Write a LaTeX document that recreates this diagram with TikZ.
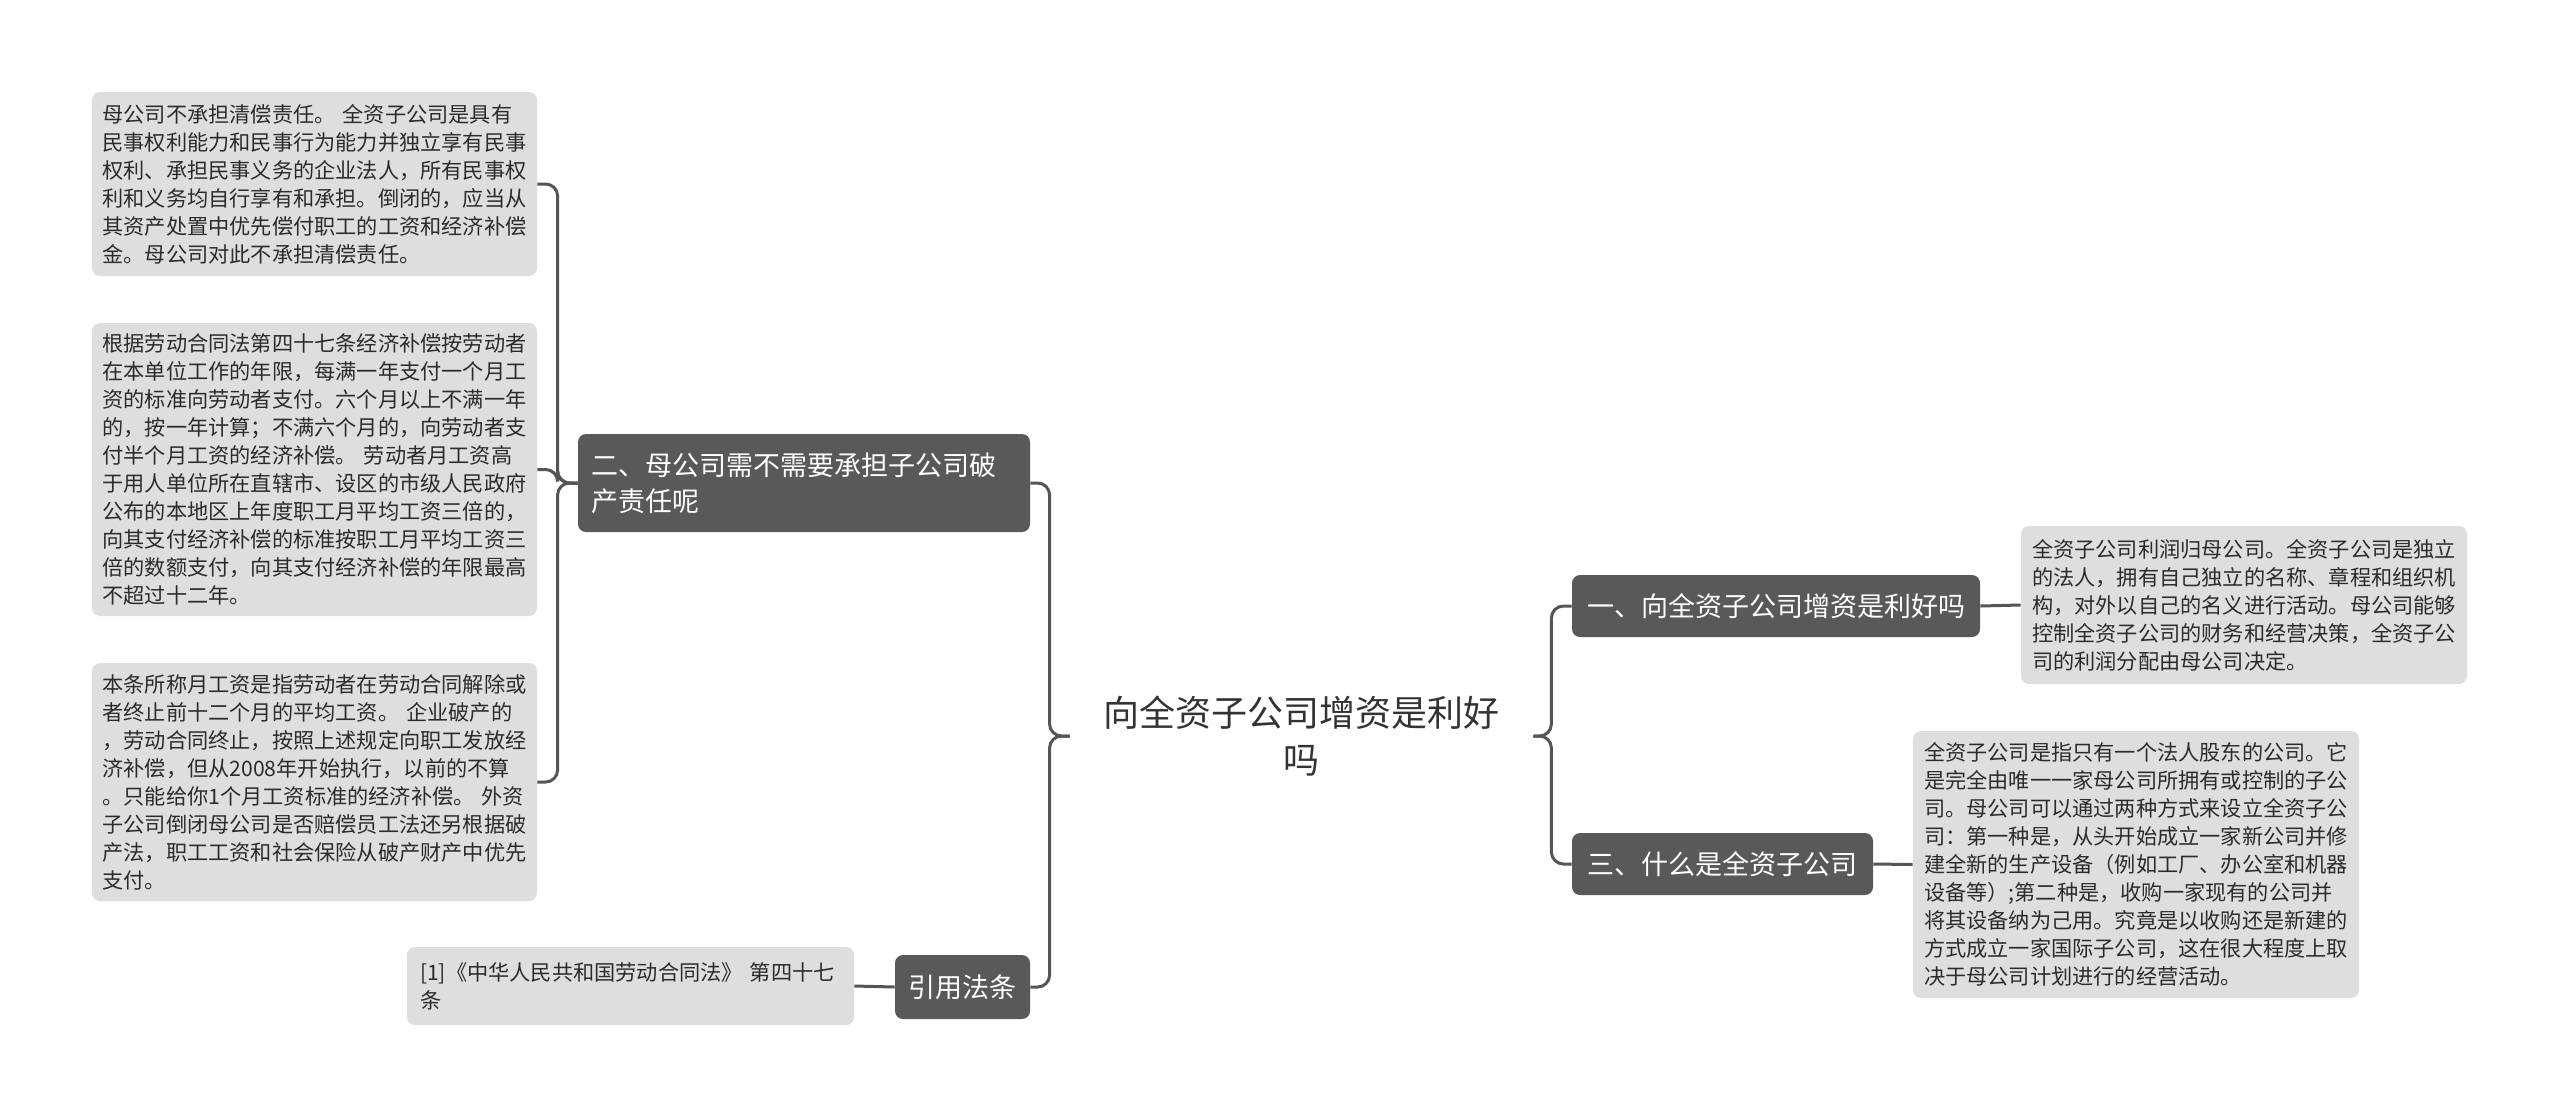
\documentclass[tikz,border=0pt]{standalone}
\usepackage{fontspec}
\setmainfont{Noto Sans CJK SC}
\definecolor{leafgray}{HTML}{DEDEDE}
\definecolor{leaftext}{HTML}{2B2B2B}
\definecolor{topicgray}{HTML}{595959}
\definecolor{conncol}{HTML}{555555}
\definecolor{maintext}{HTML}{333333}
\tikzset{
  leaf/.style={fill=leafgray, rounded corners=4pt, text=leaftext, align=left,
    inner xsep=5.25pt, inner ysep=2pt, font=\fontsize{10.6pt}{14pt}\selectfont},
  topic/.style={fill=topicgray, rounded corners=4pt, text=white,
    inner ysep=2pt, font=\fontsize{13.5pt}{18pt}\selectfont},
  conn/.style={draw=conncol, line width=1.5pt, rounded corners=6pt},
}
\begin{document}
\begin{tikzpicture}[x=0.5pt,y=-0.5pt]
\useasboundingbox[fill=white] (0,0) rectangle (2560,1116);

% central topic
\node[text=maintext, align=center, text width=200pt, inner xsep=15.75pt,
      font=\fontsize{18pt}{23.5pt}\selectfont] (c) at (1301.5,736)
  {向全资子公司增资是利好\\吗};

% left main topics
\node[topic, align=left, text width=213pt, inner xsep=6.5pt, minimum height=49pt] (n2) at (804,483)
  {二、母公司需不需要承担子公司破\\产责任呢};
\node[topic, minimum width=67.5pt, minimum height=32pt, inner xsep=4pt] (n4) at (962.5,987)
  {引用法条};

% right main topics
\node[topic, minimum width=204pt, minimum height=31pt] (n1) at (1776,606)
  {一、向全资子公司增资是利好吗};
\node[topic, minimum width=150.5pt, minimum height=31pt] (n3) at (1722.5,864)
  {三、什么是全资子公司};

% left leaves
\node[leaf, text width=212pt, minimum height=92pt] (L1) at (314.5,184)
  {母公司不承担清偿责任。 全资子公司是具有\\
   民事权利能力和民事行为能力并独立享有民事\\
   权利、承担民事义务的企业法人，所有民事权\\
   利和义务均自行享有和承担。倒闭的，应当从\\
   其资产处置中优先偿付职工的工资和经济补偿\\
   金。母公司对此不承担清偿责任。};
\node[leaf, text width=212pt, minimum height=146.5pt] (L2) at (314.5,469.5)
  {根据劳动合同法第四十七条经济补偿按劳动者\\
   在本单位工作的年限，每满一年支付一个月工\\
   资的标准向劳动者支付。六个月以上不满一年\\
   的，按一年计算；不满六个月的，向劳动者支\\
   付半个月工资的经济补偿。 劳动者月工资高\\
   于用人单位所在直辖市、设区的市级人民政府\\
   公布的本地区上年度职工月平均工资三倍的，\\
   向其支付经济补偿的标准按职工月平均工资三\\
   倍的数额支付，向其支付经济补偿的年限最高\\
   不超过十二年。};
\node[leaf, text width=212pt, minimum height=119pt] (L3) at (314.5,782)
  {本条所称月工资是指劳动者在劳动合同解除或\\
   者终止前十二个月的平均工资。 企业破产的\\
   ，劳动合同终止，按照上述规定向职工发放经\\
   济补偿，但从2008年开始执行，以前的不算\\
   。只能给你1个月工资标准的经济补偿。 外资\\
   子公司倒闭母公司是否赔偿员工法还另根据破\\
   产法，职工工资和社会保险从破产财产中优先\\
   支付。};
\node[leaf, text width=210.5pt, inner xsep=6.5pt, minimum height=39pt] (ref) at (630.5,986)
  {[1]《中华人民共和国劳动合同法》 第四十七\\条};

% right leaves
\node[leaf, text width=212pt, inner xsep=5.5pt, minimum height=79pt] (R1) at (2244,605)
  {全资子公司利润归母公司。全资子公司是独立\\
   的法人，拥有自己独立的名称、章程和组织机\\
   构，对外以自己的名义进行活动。母公司能够\\
   控制全资子公司的财务和经营决策，全资子公\\
   司的利润分配由母公司决定。};
\node[leaf, text width=212pt, inner xsep=5.5pt, minimum height=133.5pt] (R2) at (2136,864.5)
  {全资子公司是指只有一个法人股东的公司。它\\
   是完全由唯一一家母公司所拥有或控制的子公\\
   司。母公司可以通过两种方式来设立全资子公\\
   司：第一种是，从头开始成立一家新公司并修\\
   建全新的生产设备（例如工厂、办公室和机器\\
   设备等）;第二种是，收购一家现有的公司并\\
   将其设备纳为己用。究竟是以收购还是新建的\\
   方式成立一家国际子公司，这在很大程度上取\\
   决于母公司计划进行的经营活动。};

% connectors
\draw[conn] (c.west) -- ++(-20,0) |- (n2.east);
\draw[conn] (c.west) -- ++(-20,0) |- (n4.east);
\draw[conn] (c.east) -- ++(18,0) |- (n1.west);
\draw[conn] (c.east) -- ++(18,0) |- (n3.west);

\draw[conn] (n2.west) -- ++(-20,0) |- (L1.east);
\draw[conn] (n2.west) -- ++(-20,0) |- (L2.east);
\draw[conn] (n2.west) -- ++(-20,0) |- (L3.east);
\draw[conn] (n4.west) -- (ref.east);
\draw[conn] (n1.east) -- (R1.west);
\draw[conn] (n3.east) -- (R2.west);
\end{tikzpicture}
\end{document}
